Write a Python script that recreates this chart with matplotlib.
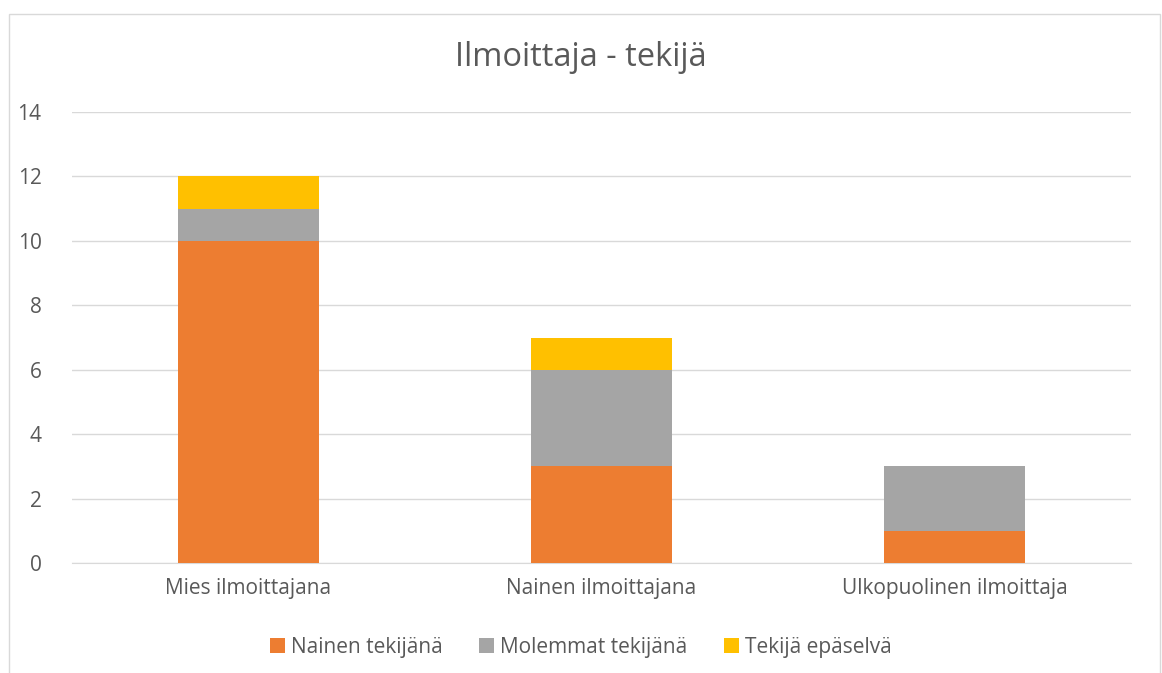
import matplotlib
matplotlib.use("Agg")
import matplotlib.pyplot as plt
from matplotlib.patches import Rectangle
import numpy as np

categories = ["Mies ilmoittajana", "Nainen ilmoittajana", "Ulkopuolinen ilmoittaja"]
series_names = ["Nainen tekijänä", "Molemmat tekijänä", "Tekijä epäselvä"]
nainen = [10, 3, 1]
molemmat = [1, 3, 2]
epaselva = [1, 1, 0]
colors = ["#ED7D31", "#A5A5A5", "#FFC000"]
yticks = [0, 2, 4, 6, 8, 10, 12, 14]

plt.rcParams['font.family'] = ['Open Sans', 'DejaVu Sans']

fig = plt.figure(figsize=(11.62, 6.73), dpi=100)
fig.patches.append(Rectangle((9/1162, -0.01), (1160-9)/1162, 1 - 14/673 + 0.01,
                             transform=fig.transFigure, fill=False,
                             edgecolor="#D9D9D9", linewidth=1))
ax = fig.add_axes([72/1162, 1 - 563/673, (1131-72)/1162, (563-112)/673])

x = np.arange(len(categories))
w = 0.40
bottom = np.zeros(len(categories))
for vals, name, c in zip([nainen, molemmat, epaselva], series_names, colors):
    ax.bar(x, vals, w, bottom=bottom, color=c, label=name, zorder=3)
    bottom += np.array(vals)

ax.set_xlim(-0.5, 2.5)
ax.set_ylim(0, 14)
ax.set_yticks(yticks)
ax.yaxis.grid(True, color="#D9D9D9", linewidth=1, zorder=0)
for s in ["top", "right", "left"]:
    ax.spines[s].set_visible(False)
ax.spines["bottom"].set_color("#D9D9D9")
ax.tick_params(axis="both", length=0, labelsize=15, colors="#595959")
ax.tick_params(axis="y", pad=22)
ax.tick_params(axis="x", pad=11)
ax.set_xticks(x)
ax.set_xticklabels(categories)

fig.text(0.5, 1 - 57/673, "Ilmoittaja - tekijä", ha="center", va="center",
         fontsize=23.5, color="#595959")

fig.legend(loc="center", bbox_to_anchor=(0.5, 1 - 647/673), ncol=3, frameon=False,
           fontsize=15, handlelength=0.7, handleheight=0.7, handletextpad=0.3,
           columnspacing=1.75, labelcolor="#595959")

fig.savefig("out.png", dpi=100)
